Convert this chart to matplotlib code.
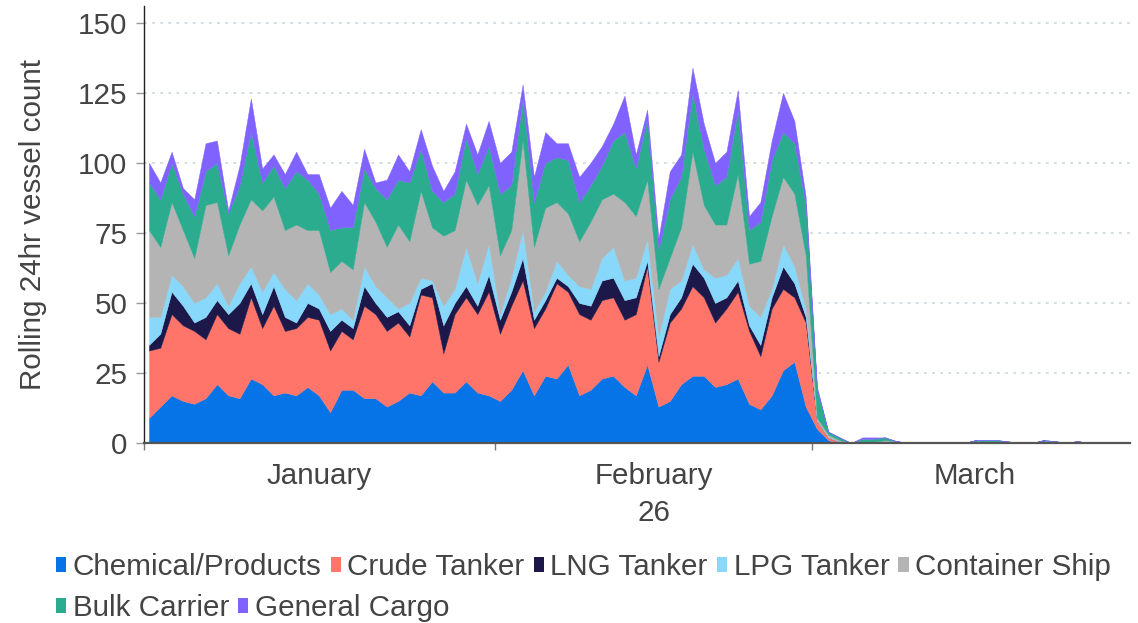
import numpy as np
import pandas as pd
import matplotlib
matplotlib.use("Agg")
import matplotlib.pyplot as plt
import matplotlib.dates as mdates
from matplotlib.patches import Patch

plt.rcParams['font.family'] = ['Liberation Sans', 'DejaVu Sans']

# daily samples of the rolling 24hr count, starting 1 Jan 2026
dates = pd.date_range("2026-01-01 10:30", periods=87, freq="D")

chem = [9, 13, 17, 15, 14, 16, 21, 17, 16, 23,
        21, 17, 18, 17, 20, 17, 11, 19, 19, 16,
        16, 13, 15, 18, 17, 22, 18, 18, 22, 18,
        17, 15, 19, 26, 17, 24, 23, 28, 17, 19,
        23, 24, 20, 17, 28, 13, 15, 21, 24, 24,
        20, 21, 23, 14, 12, 17, 26, 29, 13, 5,
        1, 0, 0, 0, 0, 0.7, 0.7, 0, 0, 0,
        0, 0, 0, 1, 0, 0, 0, 0, 0, 1,
        0, 0, 0, 0, 0, 0, 0]
crude = [24, 21, 29, 27, 26, 21, 25, 24, 23, 29,
         20, 32, 22, 24, 25, 27, 22, 21, 18, 33,
         30, 27, 28, 20, 36, 30, 14, 28, 30, 28,
         37, 24, 30, 32, 24, 24, 34, 26, 29, 25,
         28, 28, 24, 29, 35, 16, 28, 27, 32, 28,
         23, 27, 31, 26, 19, 31, 29, 23, 30, 3,
         1, 0.5, 0, 0, 0, 0, 0, 0, 0, 0,
         0, 0, 0, 0, 0, 0, 0, 0, 0, 0,
         0, 0, 0, 0, 0, 0, 0]
lng = [2, 5, 8, 7, 3, 8, 5, 5, 11, 5,
       5, 7, 5, 2, 5, 4, 7, 4, 4, 7,
       4, 5, 4, 4, 2, 5, 10, 4, 4, 3,
       6, 5, 5, 8, 3, 3, 2, 2, 4, 5,
       7, 7, 7, 6, 2, 2, 3, 4, 8, 7,
       7, 4, 4, 2, 4, 4, 8, 5, 2, 0,
       0, 0, 0, 0, 0, 0, 0, 0, 0, 0,
       0, 0, 0, 0, 0, 0, 0, 0, 0, 0,
       0, 0, 0, 0, 0, 0, 0]
lpg = [10, 6, 6, 7, 7, 7, 6, 3, 7, 6,
       8, 5, 10, 8, 7, 5, 6, 4, 3, 7,
       6, 7, 1, 8, 4, 1, 7, 5, 14, 8,
       11, 2, 5, 10, 3, 3, 6, 4, 6, 6,
       8, 11, 7, 7, 8, 7, 9, 6, 7, 3,
       9, 8, 8, 7, 10, 3, 8, 6, 3, 0,
       0, 0, 0, 0, 0.5, 0, 0, 0, 0, 0,
       0, 0, 0, 0, 0, 0.5, 0.5, 0, 0, 0,
       0, 0, 0.7, 0, 0, 0, 0]
container = [31, 25, 26, 20, 16, 33, 29, 18, 21, 24,
             29, 27, 21, 27, 19, 23, 15, 17, 18, 23,
             23, 18, 30, 22, 31, 19, 25, 21, 24, 28,
             21, 21, 17, 32, 23, 30, 21, 22, 16, 24,
             21, 19, 28, 22, 21, 17, 11, 19, 33, 23,
             19, 18, 30, 15, 20, 26, 24, 26, 19, 1,
             1, 0.5, 0, 0, 0, 0.3, 0, 0, 0, 0,
             0, 0, 0, 0, 0, 0, 0, 0, 0, 0,
             0.7, 0, 0, 0, 0, 0, 0]
bulk = [17, 17, 14, 13, 15, 12, 14, 15, 14, 24,
        10, 11, 15, 19, 18, 13, 15, 12, 15, 12,
        12, 17, 16, 21, 15, 13, 12, 13, 15, 11,
        14, 22, 16, 15, 16, 16, 16, 19, 14, 13,
        12, 19, 25, 17, 22, 14, 21, 18, 21, 20,
        14, 17, 23, 12, 14, 20, 16, 18, 18, 10,
        1, 1, 0, 1.5, 1, 1, 0, 0, 0, 0,
        0, 0, 0, 0, 1, 0.5, 0, 0, 0, 0,
        0, 0, 0, 0, 0, 0, 0]
general = [7, 6, 4, 2, 6, 10, 8, 1, 7, 12,
           5, 4, 5, 7, 2, 7, 8, 13, 8, 7,
           2, 7, 9, 4, 7, 9, 4, 8, 5, 7,
           9, 11, 12, 5, 9, 11, 5, 6, 9, 8,
           7, 6, 13, 5, 3, 4, 10, 8, 9, 9,
           8, 9, 7, 5, 7, 7, 14, 8, 3, 1,
           0, 0, 0, 0.5, 0.5, 0, 0, 0, 0, 0,
           0, 0, 0, 0, 0, 0, 0, 0, 0, 0,
           0, 0, 0, 0, 0, 0, 0]

labels = ["Chemical/Products", "Crude Tanker", "LNG Tanker", "LPG Tanker",
          "Container Ship", "Bulk Carrier", "General Cargo"]
colors = ["#0674E6", "#FF756A", "#1D184A", "#87D8FA", "#B4B4B4", "#2CAC8E", "#8062FF"]
series = [chem, crude, lng, lpg, container, bulk, general]

fs = 21.3

fig = plt.figure(figsize=(11.38, 6.23), dpi=100)
ax = fig.add_axes([144 / 1138, 1 - 443 / 623, 986 / 1138, 437 / 623])

ax.stackplot(dates, *series, colors=colors, linewidth=0.3, edgecolor="face")

x0 = pd.Timestamp("2026-01-01")
x1 = pd.Timestamp("2026-03-29 02:00")
ax.set_xlim(x0, x1)
ax.set_ylim(0, 156)

ax.set_yticks([0, 25, 50, 75, 100, 125, 150])
ax.yaxis.grid(True, color="#cfd9de", linestyle=(0, (1.5, 3)), linewidth=1.3)
ax.set_axisbelow(True)

ax.xaxis.set_major_locator(mdates.MonthLocator())
ax.xaxis.set_major_formatter(plt.NullFormatter())
mids = [x0 + pd.Timedelta(days=15.5), pd.Timestamp("2026-02-01") + pd.Timedelta(days=14),
        pd.Timestamp("2026-03-01") + (x1 - pd.Timestamp("2026-03-01")) / 2 + pd.Timedelta(hours=8)]
ax.set_xticks(mdates.date2num(mids), minor=True)
ax.set_xticklabels(["January", "February\n26", "March"], minor=True, linespacing=1.38)
ax.tick_params(axis="x", which="minor", length=0, pad=14, labelsize=fs, labelcolor="#444444")
ax.tick_params(axis="x", which="major", length=5, width=1, color="#777777")
ax.tick_params(axis="y", length=6, width=1, color="#999999", pad=6,
               labelsize=fs, labelcolor="#444444")

for s in ["top", "right"]:
    ax.spines[s].set_visible(False)
ax.spines["left"].set_color("#222222")
ax.spines["left"].set_linewidth(1)
ax.spines["bottom"].set_color("#555555")
ax.spines["bottom"].set_linewidth(1.6)

fig.text(33 / 1138, 1 - 225 / 623, "Rolling 24hr vessel count", rotation=90,
         ha="center", va="center", fontsize=fs, color="#444444")

handles = [Patch(facecolor=c, edgecolor="none") for c in colors]
common = dict(frameon=False, fontsize=fs, handlelength=0.35, handleheight=0.4,
              handletextpad=0.22, columnspacing=0.3, borderpad=0, borderaxespad=0,
              labelcolor="#444444", loc="center left")
fig.legend(handles[:5], labels[:5], ncol=5, bbox_to_anchor=(56 / 1138, 1 - 567 / 623), **common)
fig.legend(handles[5:], labels[5:], ncol=2, bbox_to_anchor=(56 / 1138, 1 - 608 / 623), **common)

fig.savefig("out.png", dpi=100)
